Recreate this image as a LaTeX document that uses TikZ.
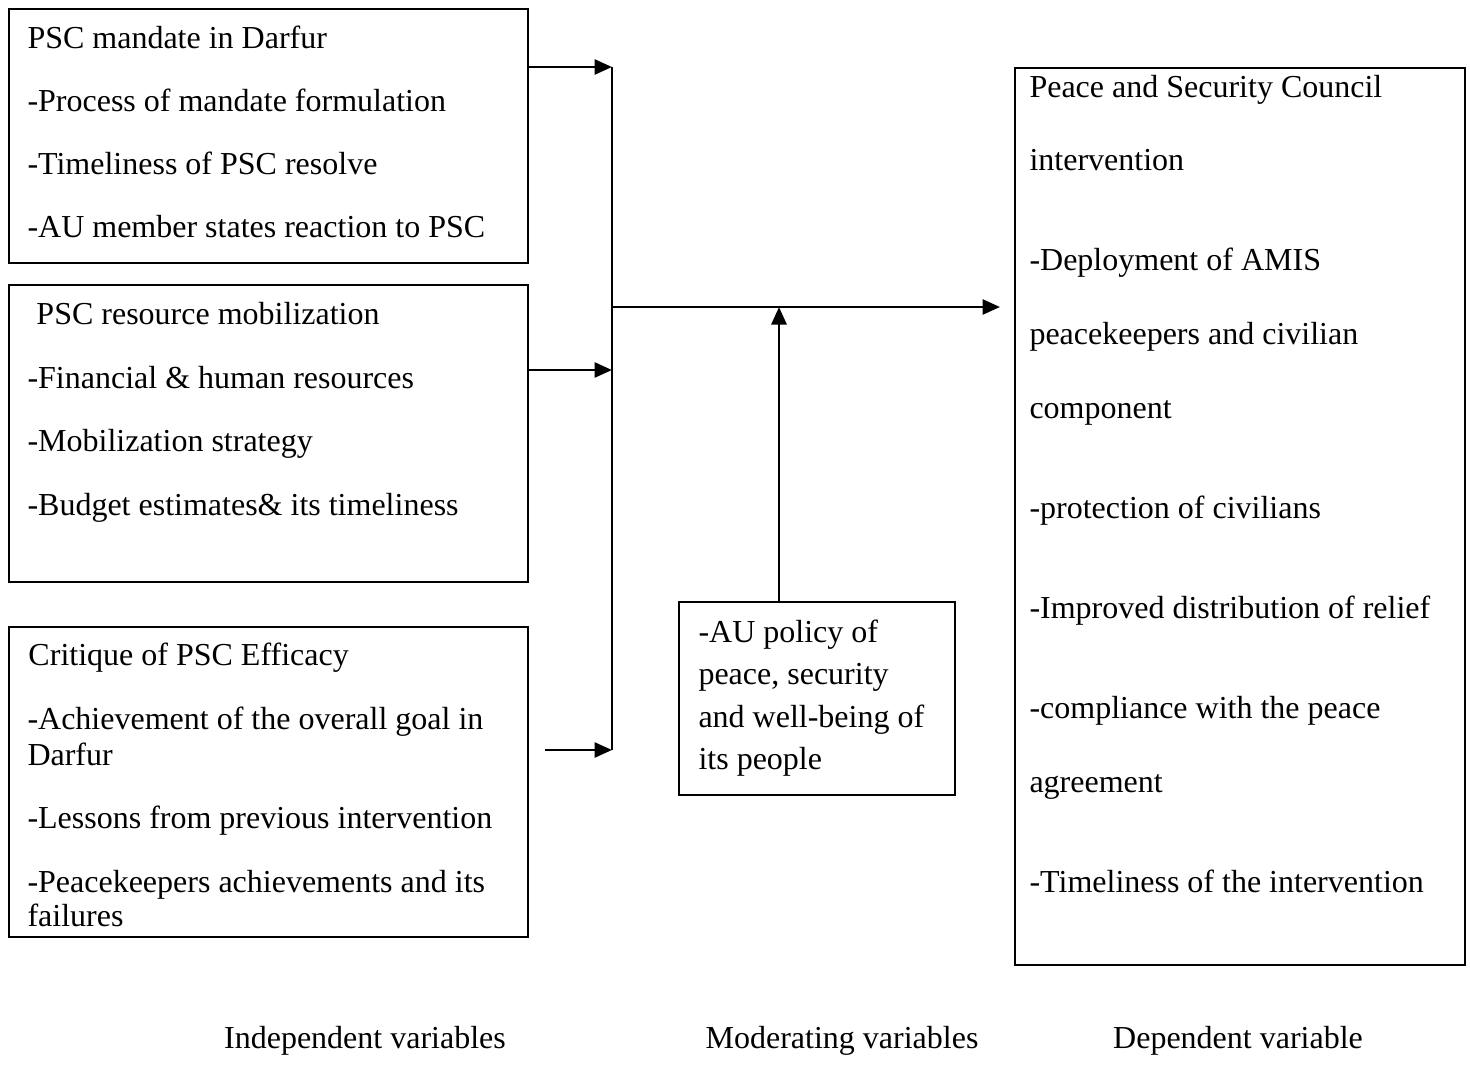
\documentclass[tikz,border=0pt]{standalone}
\usepackage{fontspec}
\setmainfont{Liberation Serif}
\usetikzlibrary{arrows.meta, positioning}

\begin{document}
\begin{tikzpicture}[
  x=0.4pt, y=-0.4pt,
  varbox/.style={draw, line width=0.8pt, anchor=north west, inner sep=0pt},
  txt/.style={anchor=mid west, inner sep=0pt, font=\fontsize{12.8}{15.4}\selectfont},
  caption/.style={anchor=mid, inner sep=0pt, font=\fontsize{12.8}{15.4}\selectfont},
  arrow/.style={-{Triangle[length=7pt, width=6pt]}, line width=1.1pt},
  link/.style={line width=1.1pt}
]
\useasboundingbox (0,0) rectangle (1470,1085);

% Boxes
\node[varbox, minimum width=207.6pt, minimum height=101.6pt] (mandate) at (8,8) {};
\node[varbox, minimum width=207.6pt, minimum height=118.8pt] (resource) at (8,284) {};
\node[varbox, minimum width=207.6pt, minimum height=124pt] (critique) at (8,626) {};
\node[varbox, minimum width=110.4pt, minimum height=77.2pt] (policy) at (678,601) {};
\node[varbox, minimum width=180pt, minimum height=358.8pt] (psc) at (1014,67) {};

% Box texts
\foreach \x/\y/\t [count=\i] in {27/43/PSC mandate in Darfur,
    27/106/-Process of mandate formulation,
    27/169/-Timeliness of PSC resolve,
    27/232/-AU member states reaction to PSC}
  \node[txt] (mandate\i) at (\x,\y) {\t};

\foreach \x/\y/\t [count=\i] in {36/319/PSC resource mobilization,
    27/383/-Financial \& human resources,
    27/446/-Mobilization strategy,
    27/510/-Budget estimates\& its timeliness}
  \node[txt] (resource\i) at (\x,\y) {\t};

\foreach \x/\y/\t [count=\i] in {28/660/Critique of PSC Efficacy,
    27/724/-Achievement of the overall goal in,
    27/760/Darfur,
    27/823/-Lessons from previous intervention,
    27/887/-Peacekeepers achievements and its,
    27/921/failures}
  \node[txt] (critique\i) at (\x,\y) {\t};

\foreach \x/\y/\t [count=\i] in {698/637/-AU policy of,
    698/679/{peace, security},
    698/722/and well-being of,
    698/764/its people}
  \node[txt] (policy\i) at (\x,\y) {\t};

\foreach \x/\y/\t [count=\i] in {1029/92/Peace and Security Council,
    1029/165/intervention,
    1029/265/-Deployment of AMIS,
    1029/339/peacekeepers and civilian,
    1029/413/component,
    1029/513/-protection of civilians,
    1029/613/-Improved distribution of relief,
    1029/713/-compliance with the peace,
    1029/787/agreement,
    1029/887/-Timeliness of the intervention}
  \node[txt] (psc\i) at (\x,\y) {\t};

% Column captions
\node[caption] (indep) at (365,1043) {Independent variables};
\node[caption] (moder) at (842,1043) {Moderating variables};
\node[caption] (dep) at (1238,1043) {Dependent variable};

% Arrows
\coordinate (j1) at (612,67);
\coordinate (j2) at (612,370);
\coordinate (j3) at (612,750);
\coordinate (s3) at (545,750);
\coordinate (mid) at (612,307);
\coordinate (up) at (779,307);

\draw[arrow] (mandate.east |- j1) -- (j1);
\draw[arrow] (resource.east |- j2) -- (j2);
\draw[arrow] (s3) -- (j3);
\draw[link] (j1) -- (j3);
\draw[arrow, shorten >=5.6pt] (mid) -- (psc.west |- mid);
\draw[arrow] (policy.north -| up) -- (up);

\end{tikzpicture}
\end{document}
